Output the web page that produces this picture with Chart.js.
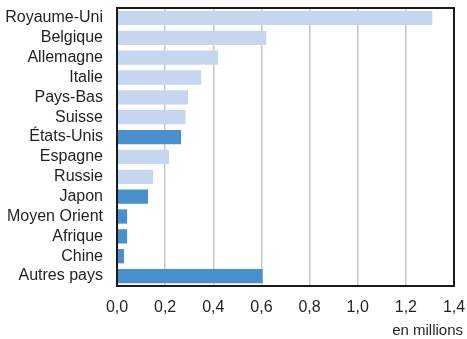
<!DOCTYPE html>
<html><head><meta charset="utf-8">
<script src="https://cdn.jsdelivr.net/npm/chart.js@4/dist/chart.umd.min.js"></script>
<style>html,body{margin:0;padding:0;background:#fff}canvas{display:block}</style>
</head><body>
<canvas id="c" width="467" height="339"></canvas>
<script>
const categories = ["Royaume-Uni","Belgique","Allemagne","Italie","Pays-Bas","Suisse","États-Unis","Espagne","Russie","Japon","Moyen Orient","Afrique","Chine","Autres pays"];
const values = [1.31,0.62,0.42,0.35,0.295,0.285,0.266,0.216,0.15,0.129,0.042,0.042,0.029,0.605];
const highlighted = [false,false,false,false,false,false,true,false,false,true,true,true,true,true];
const xTicks = [0,0.2,0.4,0.6,0.8,1.0,1.2,1.4];
const unitLabel = "en millions";
const LIGHT = "#c5d6ee", DARK = "#4a8fcd", TEXT = "#231f20";
const FONT = "'Liberation Sans Narrow', 'Liberation Sans', Arial, sans-serif";

const frame = {
  id: 'frame',
  afterDatasetsDraw(chart) {
    const {ctx, chartArea: a} = chart;
    ctx.save();
    ctx.strokeStyle = "#1a1a1a";
    ctx.lineWidth = 2;
    ctx.strokeRect(a.left, a.top, a.right - a.left, a.bottom - a.top);
    ctx.fillStyle = TEXT;
    ctx.font = "15px " + FONT;
    ctx.textAlign = "right";
    ctx.textBaseline = "middle";
    ctx.fillText(unitLabel, chart.width - 4, a.bottom + 45);
    ctx.restore();
  }
};

new Chart(document.getElementById('c'), {
  type: 'bar',
  data: {
    labels: categories,
    datasets: [{
      data: values,
      backgroundColor: highlighted.map(h => h ? DARK : LIGHT),
      borderWidth: 0,
      barPercentage: 0.8,
      categoryPercentage: 0.9
    }]
  },
  options: {
    indexAxis: 'y',
    responsive: false,
    animation: false,
    layout: {padding: {left: 0, right: 13, top: 8, bottom: 0}},
    plugins: {legend: {display: false}, tooltip: {enabled: false}},
    scales: {
      x: {
        min: 0, max: 1.4,
        afterBuildTicks(s) { s.ticks = xTicks.map(v => ({value: v})); },
        afterFit(s) { s.height = 53; s.paddingLeft = 0; s.paddingRight = 0; },
        grid: {color: "#c8c8c8", lineWidth: 1.5, drawTicks: false},
        border: {display: false},
        ticks: {
          color: TEXT, padding: 12, maxRotation: 0,
          font: {family: FONT, size: 16},
          callback: v => Number(v).toFixed(1).replace('.', ',')
        }
      },
      y: {
        afterFit(s) { s.width = 117; s.paddingTop = 0; s.paddingBottom = 0; },
        grid: {display: false, drawTicks: false},
        border: {display: false},
        ticks: {color: TEXT, padding: 14, autoSkip: false, font: {family: FONT, size: 16}}
      }
    }
  },
  plugins: [frame]
});
</script>
</body></html>
